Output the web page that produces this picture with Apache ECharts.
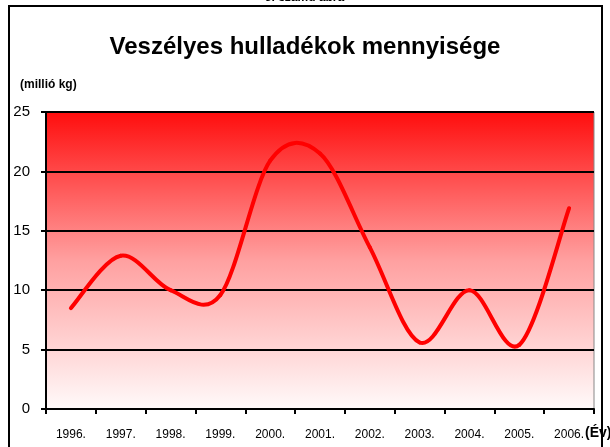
<!DOCTYPE html>
<html>
<head>
<meta charset="utf-8">
<script src="https://cdn.jsdelivr.net/npm/echarts@6/dist/echarts.min.js"></script>
<style>
  html, body { margin: 0; padding: 0; background: #fff; }
  #chart { width: 610px; height: 447px; }
</style>
</head>
<body>
<div id="chart"></div>
<script>
const years = ['1996.', '1997.', '1998.', '1999.', '2000.', '2001.', '2002.', '2003.', '2004.', '2005.', '2006.'];
const amounts = [8.5, 12.9, 10.0, 9.6, 20.9, 21.5, 13.6, 5.6, 10.0, 5.4, 16.9];
const yTicks = [0, 5, 10, 15, 20, 25];

const chart = echarts.init(document.getElementById('chart'));

// Excel-style smoothed line: each item draws the bezier segment to the next point
function renderSegment(params, api) {
  const i = params.dataIndex;
  const n = amounts.length;
  if (i >= n - 1) return null;
  const pt = k => {
    const j = Math.max(0, Math.min(n - 1, k));
    return api.coord([j, amounts[j]]);
  };
  const p0 = pt(i - 1), p1 = pt(i), p2 = pt(i + 1), p3 = pt(i + 2);
  return {
    type: 'bezierCurve',
    shape: {
      x1: p1[0], y1: p1[1],
      x2: p2[0], y2: p2[1],
      cpx1: p1[0] + (p2[0] - p0[0]) / 6, cpy1: p1[1] + (p2[1] - p0[1]) / 6,
      cpx2: p2[0] - (p3[0] - p1[0]) / 6, cpy2: p2[1] - (p3[1] - p1[1]) / 6
    },
    style: { fill: 'none', stroke: '#ff0000', lineWidth: 4, lineCap: 'round' }
  };
}

chart.setOption({
  animation: false,
  textStyle: { fontFamily: 'Liberation Sans, Arial, sans-serif' },
  graphic: [
    // outer frame
    {
      type: 'rect',
      shape: { x: 9, y: 6, width: 593, height: 460 },
      style: { fill: 'none', stroke: '#000', lineWidth: 2 }
    },
    {
      type: 'text', left: 'center', top: -8,
      style: { text: '5. számú ábra', font: 'italic bold 12px Liberation Sans', fill: '#000' }
    },
    {
      type: 'text', left: 20, top: 79,
      style: { text: '(millió kg)', font: 'bold 12px Liberation Sans', fill: '#000' }
    },
    {
      type: 'text', left: 585, top: 426,
      style: { text: '(Év)', font: 'bold 14px Liberation Sans', fill: '#000' }
    }
  ],
  title: {
    text: 'Veszélyes hulladékok mennyisége',
    left: 'center',
    top: 30,
    textStyle: { fontSize: 24, fontWeight: 'bold', color: '#000', fontFamily: 'Liberation Sans' }
  },
  grid: {
    left: 46, right: 16, top: 112, bottom: 38,
    show: true,
    borderColor: '#888',
    borderWidth: 1,
    backgroundColor: {
      type: 'linear', x: 0, y: 0, x2: 0, y2: 1,
      colorStops: [
        { offset: 0, color: '#ff0d0d' },
        { offset: 0.5, color: '#ffa0a0' },
        { offset: 1, color: '#fffafa' }
      ]
    }
  },
  xAxis: {
    type: 'category',
    data: years,
    boundaryGap: true,
    axisLine: { lineStyle: { color: '#000', width: 2 } },
    axisTick: { show: true, length: 5, lineStyle: { color: '#000', width: 2 } },
    axisLabel: { color: '#000', fontSize: 12, margin: 20 }
  },
  yAxis: {
    type: 'value',
    min: yTicks[0],
    max: yTicks[yTicks.length - 1],
    interval: 5,
    axisLine: { show: true, lineStyle: { color: '#000', width: 2 } },
    axisTick: { show: true, length: 5, lineStyle: { color: '#000', width: 2 } },
    axisLabel: { color: '#000', fontSize: 15, margin: 16 },
    splitLine: { lineStyle: { color: '#000', width: 2 } }
  },
  series: [
    {
      type: 'custom',
      renderItem: renderSegment,
      data: amounts.map((v, i) => [i, v]),
      encode: { x: 0, y: 1 }
    }
  ]
});
</script>
</body>
</html>
